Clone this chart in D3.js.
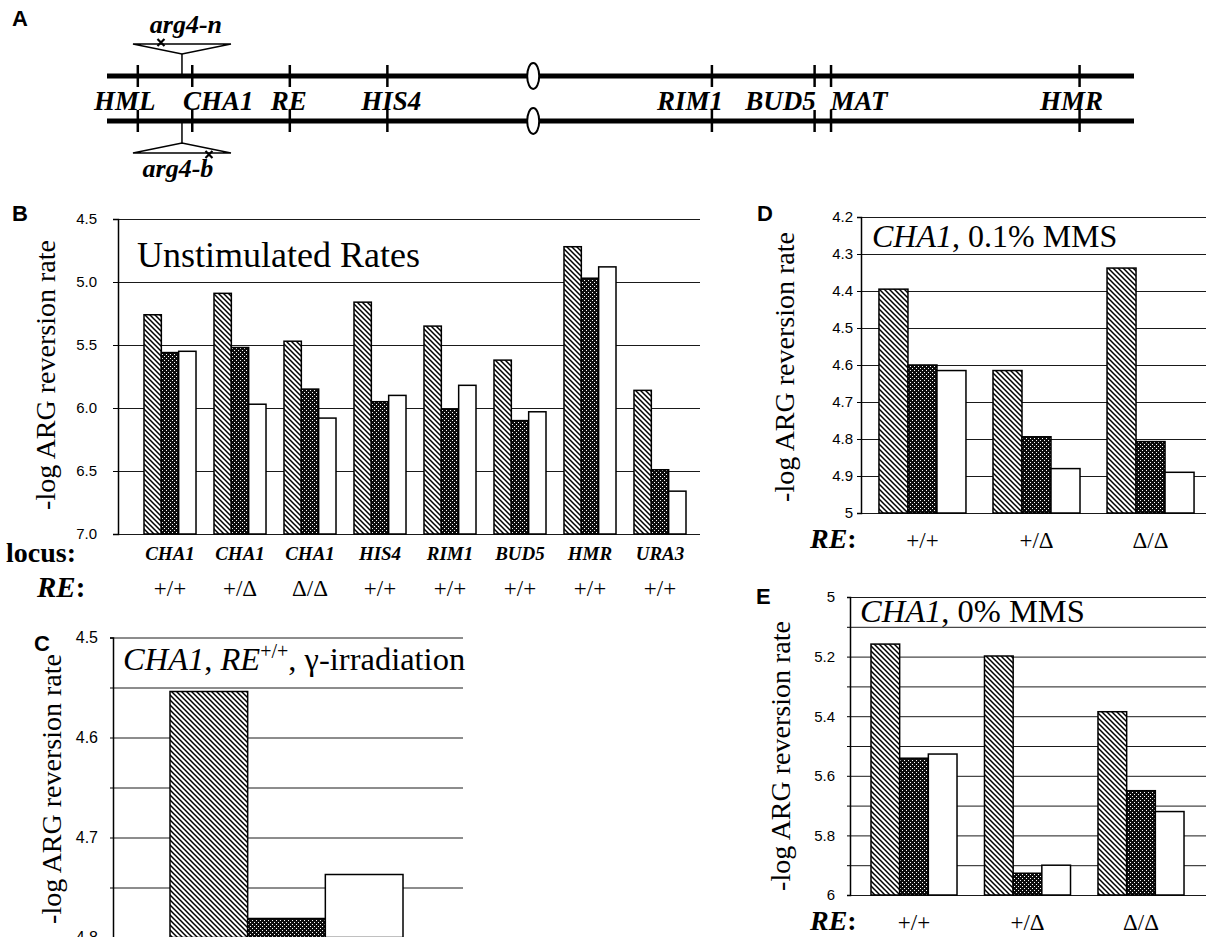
<!DOCTYPE html>
<html>
<head>
<meta charset="utf-8">
<title>ARG reversion rates</title>
<script src="https://d3js.org/d3.v7.min.js"></script>
<style>
  body { margin: 0; background: #fff; }
</style>
</head>
<body>
<div id="chart"></div>
<script>

// ---------- data ----------
// panel A: loci along the chromosome, in % of the drawn length
const loci      = ["HML", "CHA1", "RE", "HIS4", "RIM1", "BUD5", "MAT", "HMR"];
const lociPos   = [3.0, 8.3, 17.8, 27.3, 58.9, 68.9, 70.5, 94.7];
const cenPos    = 41.5;
const arg4Pos   = 7.3;

// the three strains of every group
const series = ["hatch", "dots", "open"];

// panel B
const lociB  = ["CHA1", "CHA1", "CHA1", "HIS4", "RIM1", "BUD5", "HMR", "URA3"];
const genoB  = ["+/+", "+/Δ", "Δ/Δ", "+/+", "+/+", "+/+", "+/+", "+/+"];
const hatchB = [5.26, 5.09, 5.47, 5.16, 5.35, 5.62, 4.72, 5.86];
const dotsB  = [5.56, 5.52, 5.85, 5.95, 6.01, 6.10, 4.97, 6.49];
const openB  = [5.55, 5.97, 6.08, 5.90, 5.82, 6.03, 4.88, 6.66];
const ticksB = [4.5, 5.0, 5.5, 6.0, 6.5, 7.0];

// panel C
const hatchC = [4.554];
const dotsC  = [4.781];
const openC  = [4.737];
const gridC  = [4.5, 4.55, 4.6, 4.65, 4.7, 4.75, 4.8];
const ticksC = [4.5, 4.6, 4.7, 4.8];

// panel D
const genoD  = ["+/+", "+/Δ", "Δ/Δ"];
const hatchD = [4.395, 4.615, 4.338];
const dotsD  = [4.600, 4.794, 4.807];
const openD  = [4.615, 4.880, 4.890];
const ticksD = [4.2, 4.3, 4.4, 4.5, 4.6, 4.7, 4.8, 4.9, 5.0];

// panel E
const genoE  = ["+/+", "+/Δ", "Δ/Δ"];
const hatchE = [5.158, 5.198, 5.385];
const dotsE  = [5.541, 5.927, 5.650];
const openE  = [5.527, 5.900, 5.720];
const gridE  = [5.0, 5.1, 5.2, 5.3, 5.4, 5.5, 5.6, 5.7, 5.8, 5.9, 6.0];
const ticksE = [5.0, 5.2, 5.4, 5.6, 5.8, 6.0];

// ---------- setup ----------
const W = 1209, H = 937;
const SERIF = "'Liberation Serif', 'Times New Roman', serif";
const SANS = "'Liberation Sans', Arial, sans-serif";

let svg = d3.select("#chart").append("svg")
    .attr("width", W)
    .attr("height", H)
    .style("display", "block");

let defs = svg.append("defs");

// diagonal hatching, top-left to bottom-right
let hatch = defs.append("pattern")
    .attr("id", "hatch")
    .attr("patternUnits", "userSpaceOnUse")
    .attr("width", 5).attr("height", 5);
hatch.append("rect").attr("width", 5).attr("height", 5).attr("fill", "#fff");
hatch.append("path")
    .attr("d", "M-1,-1 L6,6 M-1,4 L1,6 M4,-1 L6,1")
    .attr("stroke", "#000").attr("stroke-width", 1.5);

// black with white speckles
let dots = defs.append("pattern")
    .attr("id", "dots")
    .attr("patternUnits", "userSpaceOnUse")
    .attr("width", 4).attr("height", 4);
dots.append("rect").attr("width", 4).attr("height", 4).attr("fill", "#0d0d0d");
dots.append("rect").attr("x", 0).attr("y", 0).attr("width", 1).attr("height", 1).attr("fill", "#fff");
dots.append("rect").attr("x", 2).attr("y", 2).attr("width", 1).attr("height", 1).attr("fill", "#fff");

const fills = {hatch: "url(#hatch)", dots: "url(#dots)", open: "#fff"};

function letter(t, x, y) {
    svg.append("text")
        .attr("x", x).attr("y", y)
        .attr("font-family", SANS)
        .attr("font-weight", "bold")
        .attr("font-size", "22px")
        .text(t);
}

// ---------- panel A ----------
letter("A", 12, 26);

let xA = d3.scaleLinear().domain([0, 100]).range([107, 1134]);
const lineY = [76, 121];
const labelShift = [-13, 26, -1, 4, -22, -34, 28, -8];

lineY.forEach(function(yy) {
    svg.append("line")
        .attr("x1", xA(0)).attr("x2", xA(100))
        .attr("y1", yy).attr("y2", yy)
        .attr("stroke", "#000").attr("stroke-width", 5);

    svg.append("g").selectAll("line")
        .data(lociPos)
        .enter()
        .append("line")
        .attr("x1", d => xA(d)).attr("x2", d => xA(d))
        .attr("y1", yy - 11).attr("y2", yy + 11)
        .attr("stroke", "#000").attr("stroke-width", 2.5);

    svg.append("ellipse")
        .attr("cx", xA(cenPos)).attr("cy", yy)
        .attr("rx", 6).attr("ry", 13)
        .attr("fill", "#fff").attr("stroke", "#000").attr("stroke-width", 2);
});

svg.append("g").selectAll("text")
    .data(loci)
    .enter()
    .append("text")
    .attr("x", (d, i) => xA(lociPos[i]) + labelShift[i])
    .attr("y", 110)
    .attr("text-anchor", "middle")
    .attr("font-family", SERIF)
    .attr("font-weight", "bold")
    .attr("font-style", "italic")
    .attr("font-size", "27px")
    .text(d => d);

// arg4 insertions (one per homolog)
function insertion(yLine, dir, markDx, label, labelY, labelDx) {
    let xi = xA(arg4Pos);
    let apex = yLine + dir * 22;
    let base = apex + dir * 10;
    svg.append("line")
        .attr("x1", xi).attr("x2", xi)
        .attr("y1", yLine).attr("y2", apex)
        .attr("stroke", "#000").attr("stroke-width", 1.5);
    svg.append("path")
        .attr("d", "M" + (xi - 49) + "," + base + " L" + (xi + 49) + "," + base + " L" + xi + "," + apex + " Z")
        .attr("fill", "#fff").attr("stroke", "#000").attr("stroke-width", 1.5);
    let mx = xi + markDx, my = base + dir * 1.5;
    svg.append("path")
        .attr("d", "M" + (mx - 3.5) + "," + (my - 3.5) + " L" + (mx + 3.5) + "," + (my + 3.5) +
                   " M" + (mx - 3.5) + "," + (my + 3.5) + " L" + (mx + 3.5) + "," + (my - 3.5))
        .attr("stroke", "#000").attr("stroke-width", 2.2);
    svg.append("text")
        .attr("x", xi + labelDx).attr("y", labelY)
        .attr("text-anchor", "middle")
        .attr("font-family", SERIF)
        .attr("font-weight", "bold")
        .attr("font-style", "italic")
        .attr("font-size", "26px")
        .text(label);
}
insertion(lineY[0], -1, -21, "arg4-n", 33, 4);
insertion(lineY[1], 1, 27, "arg4-b", 177, -4);

// ---------- bar panels ----------
function panel(o) {
    let y = d3.scaleLinear().domain(o.domain).range([o.top, o.bottom]);
    let g = svg.append("g");

    // gridlines
    g.append("g")
        .attr("transform", "translate(" + o.left + ",0)")
        .call(d3.axisLeft(y).tickValues(o.grid).tickSize(-(o.right - o.left)).tickFormat(""))
        .call(s => s.select(".domain").remove())
        .selectAll("line").attr("stroke", "#1a1a1a").attr("stroke-width", 1);

    // bars
    let x = d3.scaleBand()
        .domain(d3.range(o.values[0].length))
        .range(o.band)
        .paddingInner(o.pi).paddingOuter(o.po);
    let xs = d3.scaleBand().domain(series).range([0, x.bandwidth()]);

    let rows = [];
    o.values[0].forEach(function(v, i) {
        series.forEach(function(s, j) {
            rows.push({cat: i, s: s, v: o.values[j][i]});
        });
    });

    g.append("g").selectAll("rect")
        .data(rows)
        .enter()
        .append("rect")
        .attr("x", d => x(d.cat) + xs(d.s))
        .attr("y", d => y(d.v))
        .attr("width", xs.bandwidth())
        .attr("height", d => y(o.domain[1]) - y(d.v))
        .attr("fill", d => fills[d.s])
        .attr("stroke", "#000")
        .attr("stroke-width", 1.5);

    // y axis with outward ticks
    let ax = g.append("g")
        .attr("transform", "translate(" + o.left + ",0)")
        .call(d3.axisLeft(y).tickValues(o.grid).tickSize(o.tick).tickPadding(o.pad)
            .tickFormat(d => o.ticks.some(t => Math.abs(t - d) < 1e-9) ? o.fmt(d) : ""));
    ax.select(".domain").attr("stroke", "#000").attr("stroke-width", 1.5);
    ax.selectAll("line").attr("stroke", "#000");
    ax.selectAll("text")
        .attr("font-family", SANS)
        .attr("font-size", o.tickFont)
        .attr("fill", "#000");

    // y title
    svg.append("text")
        .attr("transform", "translate(" + o.ylabX + "," + o.ylabY + ") rotate(-90)")
        .attr("text-anchor", "middle")
        .attr("font-family", SERIF)
        .attr("font-size", "28px")
        .text("-log ARG reversion rate");

    return {x: x, y: y, centre: i => x(i) + x.bandwidth() / 2};
}

function catLabels(p, labels, yy, size, bold) {
    svg.append("g").selectAll("text")
        .data(labels)
        .enter()
        .append("text")
        .attr("x", (d, i) => p.centre(i))
        .attr("y", yy)
        .attr("text-anchor", "middle")
        .attr("font-family", SERIF)
        .attr("font-size", size)
        .attr("font-weight", bold ? "bold" : "normal")
        .attr("font-style", bold ? "italic" : "normal")
        .text(d => d);
}

function reLabel(x, y, size) {
    let t = svg.append("text")
        .attr("x", x).attr("y", y)
        .attr("font-family", SERIF)
        .attr("font-weight", "bold")
        .attr("font-size", size);
    t.append("tspan").attr("font-style", "italic").text("RE");
    t.append("tspan").text(":");
}

// ---- B ----
letter("B", 12, 221);
let pB = panel({
    domain: [4.5, 7.0], top: 219, bottom: 534, left: 118, right: 700,
    grid: ticksB, ticks: ticksB, fmt: d3.format(".1f"), tick: 5, pad: 16, tickFont: "15px",
    values: [hatchB, dotsB, openB], band: [135, 695], pi: 0.257, po: 0.1286,
    ylabX: 55, ylabY: 375
});
svg.append("text")
    .attr("x", 137).attr("y", 267)
    .attr("font-family", SERIF)
    .attr("font-size", "36px")
    .text("Unstimulated Rates");
svg.append("text")
    .attr("x", 6).attr("y", 562)
    .attr("font-family", SERIF)
    .attr("font-weight", "bold")
    .attr("font-size", "28px")
    .text("locus:");
catLabels(pB, lociB, 560, "19px", true);
reLabel(37, 597, "29px");
catLabels(pB, genoB, 596, "23px", false);

// ---- C ----
letter("C", 34, 651);
let pC = panel({
    domain: [4.5, 4.8], top: 637.5, bottom: 937.5, left: 113, right: 463,
    grid: gridC, ticks: ticksC, fmt: d3.format(".1f"), tick: 3, pad: 12, tickFont: "16px",
    values: [hatchC, dotsC, openC], band: [170, 403], pi: 0, po: 0,
    ylabX: 61, ylabY: 789
});
let tC = svg.append("text")
    .attr("x", 123).attr("y", 670)
    .attr("font-family", SERIF)
    .attr("font-size", "32.5px");
tC.append("tspan").attr("font-style", "italic").text("CHA1");
tC.append("tspan").text(", ");
tC.append("tspan").attr("font-style", "italic").text("RE");
tC.append("tspan").attr("font-size", "20px").attr("dy", -12).text("+/+");
tC.append("tspan").attr("dy", 12).text(", γ-irradiation");

// ---- D ----
letter("D", 757, 221);
let pD = panel({
    domain: [4.2, 5.0], top: 217, bottom: 513, left: 861, right: 1206,
    grid: ticksD, ticks: ticksD, fmt: d3.format("~g"), tick: 4, pad: 4, tickFont: "15px",
    values: [hatchD, dotsD, openD], band: [865.5, 1207.5], pi: 0.237, po: 0.118,
    ylabX: 794, ylabY: 367
});
let tD = svg.append("text")
    .attr("x", 872).attr("y", 247)
    .attr("font-family", SERIF)
    .attr("font-size", "32px");
tD.append("tspan").attr("font-style", "italic").text("CHA1");
tD.append("tspan").text(", 0.1% MMS");
reLabel(810, 548, "28px");
catLabels(pD, genoD, 548, "23px", false);

// ---- E ----
letter("E", 756, 604);
let pE = panel({
    domain: [5.0, 6.0], top: 597, bottom: 895, left: 850, right: 1206,
    grid: gridE, ticks: ticksE, fmt: d3.format("~g"), tick: 3, pad: 12, tickFont: "15px",
    values: [hatchE, dotsE, openE], band: [857.25, 1197.75], pi: 0.242, po: 0.121,
    ylabX: 790, ylabY: 756
});
let tE = svg.append("text")
    .attr("x", 860).attr("y", 622)
    .attr("font-family", SERIF)
    .attr("font-size", "32.5px");
tE.append("tspan").attr("font-style", "italic").text("CHA1");
tE.append("tspan").text(", 0% MMS");
reLabel(810, 930, "28px");
catLabels(pE, genoE, 930, "23px", false);

</script>
</body>
</html>
